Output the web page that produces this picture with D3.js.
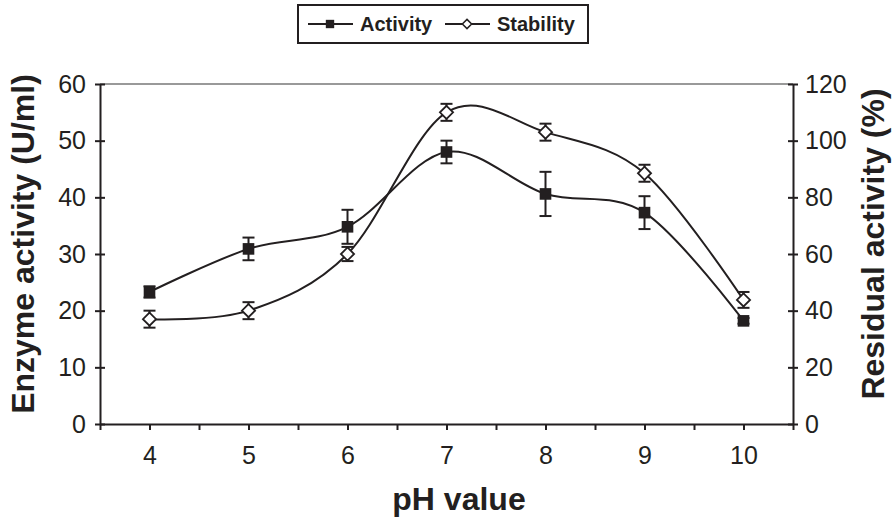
<!DOCTYPE html>
<html>
<head>
<meta charset="utf-8">
<script src="https://cdn.jsdelivr.net/npm/d3@7/dist/d3.min.js"></script>
<style>
  body { margin: 0; background: #fff; }
  svg { font-family: "Liberation Sans", Arial, sans-serif; }
</style>
</head>
<body>
<svg id="chart" width="896" height="520"></svg>
<script>
const phValues = [4, 5, 6, 7, 8, 9, 10];
const activity = [23.3, 30.9, 34.8, 48.0, 40.6, 37.3, 18.2];
const activityErr = [1.0, 2.0, 3.0, 2.0, 3.9, 2.9, 0.5];
const stability = [37.0, 40.0, 60.0, 110.0, 103.0, 88.5, 43.8];
const stabilityErr = [3.0, 3.0, 2.5, 3.0, 3.0, 3.0, 2.8];

const xTicks = [3.5, 4, 4.5, 5, 5.5, 6, 6.5, 7, 7.5, 8, 8.5, 9, 9.5, 10, 10.5];
const leftTicks = [0, 10, 20, 30, 40, 50, 60];
const rightTicks = [0, 20, 40, 60, 80, 100, 120];

const ink = "#231f20";
const svg = d3.select("#chart");
const margin = { top: 84, right: 103, bottom: 96, left: 100 };
const width = 896, height = 520;

const x = d3.scaleLinear()
  .domain([3.5, 10.5])
  .range([margin.left, width - margin.right]);

const yL = d3.scaleLinear()
  .domain([0, 60])
  .range([height - margin.bottom, margin.top]);

const yR = d3.scaleLinear()
  .domain([0, 120])
  .range([height - margin.bottom, margin.top]);

// top frame line (grey)
svg.append("line")
  .attr("x1", x(3.5)).attr("x2", x(10.5))
  .attr("y1", yL(60)).attr("y2", yL(60))
  .attr("stroke", "#999").attr("stroke-width", 2);

// x axis
const gx = svg.append("g")
  .attr("transform", `translate(0,${yL(0)})`)
  .call(d3.axisBottom(x)
    .tickValues(xTicks)
    .tickSizeInner(6).tickSizeOuter(0)
    .tickPadding(16)
    .tickFormat(d => Number.isInteger(d) ? d : ""));

// left axis
const gl = svg.append("g")
  .attr("transform", `translate(${x(3.5)},0)`)
  .call(d3.axisLeft(yL).tickValues(leftTicks).tickSizeInner(5).tickSizeOuter(0).tickPadding(9));
gl.selectAll(".tick line").attr("x1", 5);

// right axis
const gr = svg.append("g")
  .attr("transform", `translate(${x(10.5)},0)`)
  .call(d3.axisRight(yR).tickValues(rightTicks).tickSizeInner(5).tickSizeOuter(0).tickPadding(7));
gr.selectAll(".tick line").attr("x1", -5);

[gx, gl, gr].forEach(g => {
  g.select(".domain").attr("stroke", ink).attr("stroke-width", 2);
  g.selectAll(".tick line").attr("stroke", ink).attr("stroke-width", 2);
  g.selectAll(".tick text").attr("fill", ink).attr("font-size", 25);
});

// axis titles
svg.append("text")
  .attr("transform", `translate(34,${(yL(0) + yL(60)) / 2 - 10}) rotate(-90)`)
  .attr("text-anchor", "middle")
  .attr("font-size", 32).attr("font-weight", "bold").attr("fill", ink)
  .text("Enzyme activity (U/ml)");

svg.append("text")
  .attr("transform", `translate(884,${(yR(0) + yR(120)) / 2 - 10}) rotate(-90)`)
  .attr("text-anchor", "middle")
  .attr("font-size", 32).attr("font-weight", "bold").attr("fill", ink)
  .text("Residual activity (%)");

svg.append("text")
  .attr("x", 459).attr("y", 510)
  .attr("text-anchor", "middle")
  .attr("font-size", 32).attr("font-weight", "bold").attr("fill", ink)
  .text("pH value");

// series
const series = [
  { name: "Activity", values: activity, err: activityErr, y: yL, marker: "square" },
  { name: "Stability", values: stability, err: stabilityErr, y: yR, marker: "diamond" }
];

const curve = d3.curveCardinal.tension(0);

series.forEach(s => {
  const pts = phValues.map((p, i) => ({ p, v: s.values[i], e: s.err[i] }));

  svg.append("path")
    .datum(pts)
    .attr("fill", "none")
    .attr("stroke", ink)
    .attr("stroke-width", 2)
    .attr("d", d3.line().curve(curve).x(d => x(d.p)).y(d => s.y(d.v)));

  const eb = svg.append("g").attr("stroke", ink).attr("stroke-width", 2);
  pts.forEach(d => {
    const cx = x(d.p), top = s.y(d.v + d.e), bot = s.y(d.v - d.e);
    eb.append("line").attr("x1", cx).attr("x2", cx).attr("y1", top).attr("y2", bot);
    eb.append("line").attr("x1", cx - 6).attr("x2", cx + 6).attr("y1", top).attr("y2", top);
    eb.append("line").attr("x1", cx - 6).attr("x2", cx + 6).attr("y1", bot).attr("y2", bot);
  });

  const sym = s.marker === "square"
    ? d3.symbol().type(d3.symbolSquare).size(135)
    : d3.symbol().type(d3.symbolDiamond2).size(110);

  svg.append("g").selectAll("path")
    .data(pts)
    .join("path")
    .attr("transform", d => `translate(${x(d.p)},${s.y(d.v)})`)
    .attr("d", sym)
    .attr("fill", s.marker === "square" ? ink : "#fff")
    .attr("stroke", ink)
    .attr("stroke-width", s.marker === "square" ? 0 : 1.8);
});

// legend
const lg = svg.append("g");
lg.append("rect")
  .attr("x", 298).attr("y", 5).attr("width", 290).attr("height", 38)
  .attr("fill", "#fff").attr("stroke", ink).attr("stroke-width", 2);

const legendItems = [
  { name: "Activity", x0: 308, marker: "square" },
  { name: "Stability", x0: 445, marker: "diamond" }
];
legendItems.forEach(it => {
  lg.append("line")
    .attr("x1", it.x0).attr("x2", it.x0 + 45)
    .attr("y1", 24).attr("y2", 24)
    .attr("stroke", ink).attr("stroke-width", 2);
  const sym = it.marker === "square"
    ? d3.symbol().type(d3.symbolSquare).size(70)
    : d3.symbol().type(d3.symbolDiamond2).size(55);
  lg.append("path")
    .attr("transform", `translate(${it.x0 + 22},24)`)
    .attr("d", sym)
    .attr("fill", it.marker === "square" ? ink : "#fff")
    .attr("stroke", ink)
    .attr("stroke-width", it.marker === "square" ? 0 : 1.5);
  lg.append("text")
    .attr("x", it.x0 + 52).attr("y", 31)
    .attr("font-size", 20).attr("font-weight", "bold").attr("fill", ink)
    .text(it.name);
});
</script>
</body>
</html>
